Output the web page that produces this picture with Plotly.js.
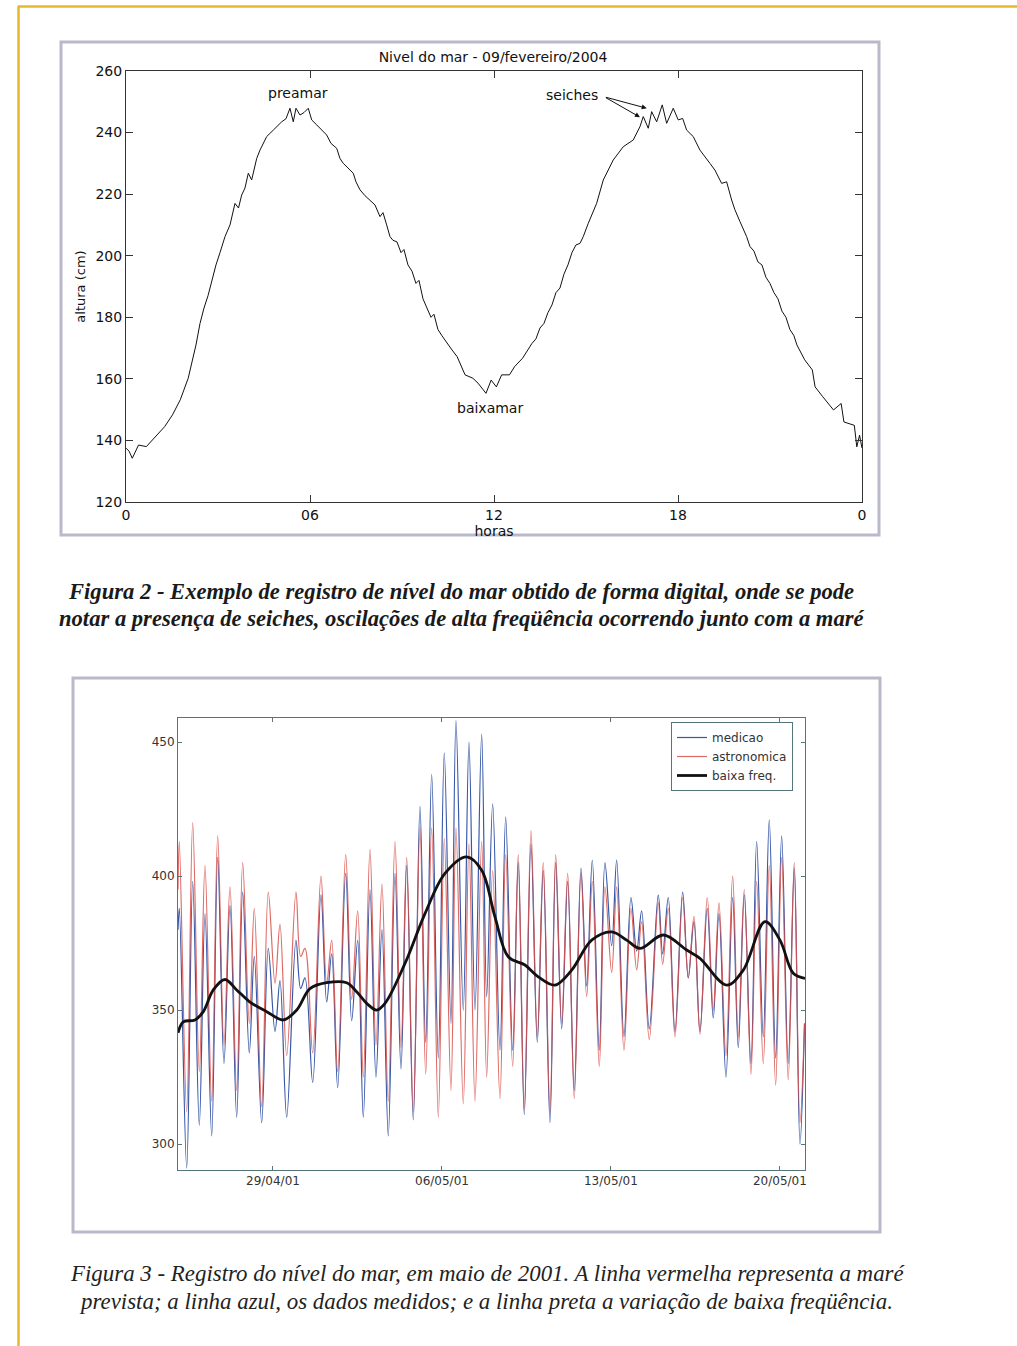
<!DOCTYPE html>
<html>
<head>
<meta charset="utf-8">
<script src="https://cdn.plot.ly/plotly-3.0.1.min.js"></script>
<style>html,body{margin:0;padding:0;background:#fff;}#chart{width:1017px;height:1346px;}</style>
</head>
<body>
<div id="chart"></div>
<script>
// ---------- Figura 2: nível do mar 09/02/2004 (horas, cm) ----------
const hoursFig2 = [0.000,0.100,0.205,0.408,0.665,1.004,1.262,1.516,1.770,2.028,2.152,2.282,2.413,2.543,2.674,2.804,2.934,3.065,3.228,3.391,3.554,3.668,3.772,3.880,3.988,4.098,4.262,4.369,4.588,4.803,4.923,5.077,5.217,5.347,5.455,5.543,5.673,5.804,5.944,6.055,6.218,6.358,6.544,6.684,6.870,6.977,7.085,7.238,7.411,7.499,7.630,7.793,7.956,8.119,8.282,8.380,8.500,8.608,8.706,8.836,8.967,9.064,9.195,9.325,9.455,9.553,9.684,9.814,9.945,10.042,10.173,10.303,10.433,10.629,10.799,11.056,11.311,11.480,11.738,11.907,12.077,12.250,12.504,12.674,12.931,13.101,13.237,13.368,13.498,13.629,13.759,13.890,14.020,14.151,14.281,14.411,14.542,14.672,14.803,14.910,15.073,15.347,15.563,15.889,16.215,16.541,16.759,16.867,17.030,17.141,17.304,17.486,17.630,17.845,18.008,18.151,18.282,18.497,18.716,19.042,19.205,19.423,19.586,19.749,19.857,20.020,20.238,20.346,20.476,20.606,20.737,20.867,20.998,21.128,21.259,21.389,21.520,21.650,21.781,21.878,21.960,22.130,22.380,22.470,22.720,23.070,23.320,23.410,23.750,23.830,23.920,24.000];
const alturaFig2 = [137.5,136.5,134.2,138.5,138.0,141.8,144.5,148.3,153.2,160.2,165.0,171.0,178.0,183.0,187.0,192.0,197.0,201.0,206.2,210.0,217.0,215.5,219.7,222.0,226.8,224.6,231.6,234.3,238.7,240.8,242.0,243.5,244.5,247.9,243.5,247.9,245.7,246.5,247.9,244.1,242.5,241.0,239.2,236.5,234.9,231.6,230.0,228.5,226.8,224.0,221.4,219.5,218.1,216.5,212.7,214.0,210.0,206.2,205.0,204.5,201.0,202.0,197.0,195.0,191.0,192.0,186.0,183.0,180.0,181.0,176.0,174.0,172.0,169.4,167.2,161.3,160.2,158.6,155.3,159.6,157.4,161.3,161.3,164.0,166.7,169.4,171.5,173.0,176.5,178.0,181.5,184.0,188.0,189.5,194.0,197.0,201.0,203.5,204.0,206.2,210.5,217.0,224.6,231.1,235.4,237.6,241.9,245.2,241.4,246.8,243.5,249.0,243.0,247.9,244.1,244.6,240.8,238.7,234.3,230.0,227.8,223.5,224.0,218.1,214.9,211.1,206.2,203.0,201.5,198.0,197.0,193.0,191.0,188.0,186.0,182.0,180.0,176.0,174.0,171.0,169.4,166.2,162.9,157.4,154.2,149.9,152.0,146.0,144.9,137.9,141.7,137.5];
const ticksHoras = [0, 6, 12, 18, 24];
const ticksHorasText = ['0', '06', '12', '18', '0'];

// ---------- Figura 3: maio de 2001 (dias desde 29/04/2001, cm) ----------
const diasMaree = [-3.935,-3.88,-3.575,-3.326,-3.053,-2.817,-2.539,-2.291,-2.030,-1.781,-1.504,-1.255,-0.982,-0.775,-0.468,-0.195,0.083,0.290,0.568,0.953,1.147,1.326,1.645,1.988,2.224,2.432,2.680,3.012,3.260,3.509,3.741,4.018,4.267,4.515,4.776,5.054,5.302,5.539,5.812,6.089,6.326,6.574,6.848,7.096,7.374,7.581,7.883,8.119,8.368,8.645,8.852,9.101,9.403,9.640,9.930,10.161,10.410,10.688,10.949,11.197,11.475,11.711,11.960,12.208,12.481,12.759,12.995,13.227,13.517,13.753,14.031,14.238,14.540,14.830,15.066,15.273,15.588,15.961,16.143,16.375,16.653,16.972,17.204,17.440,17.688,17.991,18.239,18.476,18.766,19.043,19.275,19.524,19.801,20.037,20.311,20.559,20.824,21.073,21.344,21.595,21.831,22.02];
const medicao = [380,388,291,398,307,386,303,407,330,389,310,394,334,370,308,373,342,361,310,376,358,362,323,393,353,371,321,401,346,376,310,395,325,380,303,401,328,404,309,426,338,438,332,446,345,458,350,450,350,453,355,427,335,422,335,405,311,412,338,402,308,405,343,398,320,403,359,406,335,405,374,406,340,392,372,387,343,393,371,392,342,394,362,383,342,388,347,386,325,392,336,393,330,413,340,421,332,415,330,403,300,345];
const astronomica = [395,413,312,420,327,404,316,415,337,396,320,405,345,388,314,394,360,382,333,394,370,373,334,400,360,376,327,408,354,387,325,410,337,397,316,413,336,407,312,418,326,418,310,414,320,418,315,412,316,413,325,402,317,408,329,408,313,417,340,405,312,408,345,401,317,401,355,398,329,396,364,396,335,388,365,383,339,390,367,388,340,392,362,385,341,392,350,390,333,400,340,395,326,398,330,404,322,407,324,405,308,345];
const diasBaixa = [-3.935,-3.716,-3.231,-2.887,-2.473,-1.988,-1.504,-0.953,-0.261,0.427,0.982,1.533,2.224,3.053,3.467,3.882,4.296,4.640,5.468,6.297,7.125,8.024,8.645,9.196,9.747,10.439,10.990,11.682,12.374,13.202,14.031,14.652,15.203,16.168,17.137,17.688,18.794,19.482,20.381,21.003,21.553,22.038];
const baixaFreq = [341.5,345.6,346.3,349.4,357.5,361.4,357.5,353.0,349.4,346.3,350.0,358.0,360.2,360.2,356.8,352.5,350.0,352.5,367.4,386.0,401.0,407.2,402.2,384.8,369.9,366.8,362.4,359.3,364.9,376.1,379.2,376.1,373.0,378.0,372.4,369.3,359.3,364.9,383.0,376.1,363.7,361.8];
const datasTicks = ['2001-04-29', '2001-05-06', '2001-05-13', '2001-05-20'];

// ---------- helpers ----------
const W = 1017, H = 1346;
const fx = p => p / W;
const fy = p => 1 - p / H;
const base = Date.UTC(2001, 3, 29);
function toDate(d) {
  const t = new Date(base + d * 86400000);
  const z = n => String(n).padStart(2, '0');
  return t.getUTCFullYear() + '-' + z(t.getUTCMonth() + 1) + '-' + z(t.getUTCDate()) + ' ' +
    z(t.getUTCHours()) + ':' + z(t.getUTCMinutes()) + ':' + z(t.getUTCSeconds());
}
const xMaree = diasMaree.map(toDate);
const xBaixa = diasBaixa.map(toDate);

const sans = 'DejaVu Sans, Verdana, sans-serif';
const serif = 'Liberation Serif, Times New Roman, serif';

const traces = [
  {x: hoursFig2, y: alturaFig2, xaxis: 'x', yaxis: 'y', type: 'scatter', mode: 'lines',
   line: {color: '#111', width: 1}, showlegend: false, hoverinfo: 'skip'},
  {x: xMaree, y: medicao, xaxis: 'x2', yaxis: 'y2', type: 'scatter', mode: 'lines', name: 'medicao',
   line: {color: '#3757a8', width: 1.2, shape: 'spline', smoothing: 1}},
  {x: xMaree, y: astronomica, xaxis: 'x2', yaxis: 'y2', type: 'scatter', mode: 'lines', name: 'astronomica',
   line: {color: '#d8504a', width: 1.2, shape: 'spline', smoothing: 1}, opacity: 0.85},
  {x: xBaixa, y: baixaFreq, xaxis: 'x2', yaxis: 'y2', type: 'scatter', mode: 'lines', name: 'baixa freq.',
   line: {color: '#111', width: 2.8, shape: 'spline', smoothing: 1}}
];

const axTop = {showline: true, linecolor: '#333', linewidth: 1, mirror: 'ticks', ticks: 'inside',
  tickcolor: '#333', showgrid: false, zeroline: false, tickfont: {family: sans, size: 14, color: '#111'}};
const axBot = {showline: true, linecolor: '#56747b', linewidth: 1, mirror: 'ticks', ticks: 'inside',
  tickcolor: '#56747b', ticklen: 4, showgrid: false, zeroline: false, tickfont: {family: sans, size: 12, color: '#333'}};

const layout = {
  width: W, height: H, margin: {l: 0, r: 0, t: 0, b: 0},
  paper_bgcolor: '#ffffff', plot_bgcolor: 'rgba(0,0,0,0)',
  font: {family: sans, color: '#111'},
  title: {text: 'Nivel do mar - 09/fevereiro/2004', x: fx(493), y: fy(57), xref: 'paper', yref: 'paper',
    xanchor: 'center', yanchor: 'middle', font: {family: sans, size: 14, color: '#111'}},
  xaxis: Object.assign({}, axTop, {domain: [fx(126), fx(862)], range: [0, 24], anchor: 'y',
    tickvals: ticksHoras, ticktext: ticksHorasText, ticklen: 7,
    title: {text: 'horas', font: {family: sans, size: 14, color: '#111'}, standoff: 0}}),
  yaxis: Object.assign({}, axTop, {domain: [fy(502), fy(71)], range: [120, 260], dtick: 20, anchor: 'x', ticklen: 7,
    title: {text: 'altura (cm)', font: {family: sans, size: 13, color: '#111'}, standoff: 6}}),
  xaxis2: Object.assign({}, axBot, {domain: [fx(178), fx(805)], type: 'date', anchor: 'y2',
    range: [toDate(-3.935), toDate(22.04)], tickvals: datasTicks, tickformat: '%d/%m/%y'}),
  yaxis2: Object.assign({}, axBot, {domain: [fy(1170), fy(718)], range: [290.3, 459], anchor: 'x2',
    tickvals: [300, 350, 400, 450]}),
  showlegend: true,
  legend: {x: fx(671), y: fy(722), xanchor: 'left', yanchor: 'top', bgcolor: '#fff',
    bordercolor: '#56747b', borderwidth: 1, font: {family: sans, size: 12, color: '#333'},
    tracegroupgap: 0, itemwidth: 30},
  shapes: [
    {type: 'line', xref: 'paper', yref: 'paper', x0: fx(18), x1: 1, y0: fy(6.5), y1: fy(6.5), line: {color: '#e6b82a', width: 2.5}},
    {type: 'line', xref: 'paper', yref: 'paper', x0: fx(18.5), x1: fx(18.5), y0: fy(6), y1: 0, line: {color: '#e6b82a', width: 2.5}},
    {type: 'rect', xref: 'paper', yref: 'paper', x0: fx(61), x1: fx(879), y0: fy(42), y1: fy(535), line: {color: '#b9b9c9', width: 3}},
    {type: 'rect', xref: 'paper', yref: 'paper', x0: fx(73), x1: fx(880), y0: fy(678), y1: fy(1232), line: {color: '#b9b9c9', width: 3}}
  ],
  annotations: [
    {xref: 'x', yref: 'y', x: 5.61, y: 252.9, text: 'preamar', showarrow: false, font: {family: sans, size: 14, color: '#111'}},
    {xref: 'x', yref: 'y', x: 11.87, y: 150.5, text: 'baixamar', showarrow: false, font: {family: sans, size: 14, color: '#111'}},
    {xref: 'x', yref: 'y', x: 14.54, y: 252.2, text: 'seiches', showarrow: false, font: {family: sans, size: 14, color: '#111'}},
    {xref: 'x', yref: 'y', x: 16.98, y: 247.9, axref: 'x', ayref: 'y', ax: 15.6, ay: 251.6, text: '', showarrow: true,
      arrowhead: 2, arrowsize: 1, arrowwidth: 1, arrowcolor: '#111'},
    {xref: 'x', yref: 'y', x: 16.76, y: 245.0, axref: 'x', ayref: 'y', ax: 15.6, ay: 251.6, text: '', showarrow: true,
      arrowhead: 2, arrowsize: 1, arrowwidth: 1, arrowcolor: '#111'},
    {xref: 'paper', yref: 'paper', x: fx(461), y: fy(591), xanchor: 'center', yanchor: 'middle', showarrow: false,
      text: '<b><i>Figura 2 - Exemplo de registro de nível do mar obtido de forma digital, onde se pode</i></b>',
      font: {family: serif, size: 22.6, color: '#1a1a1a'}},
    {xref: 'paper', yref: 'paper', x: fx(461), y: fy(619), xanchor: 'center', yanchor: 'middle', showarrow: false,
      text: '<b><i>notar a presença de seiches, oscilações de alta freqüência ocorrendo junto com a maré</i></b>',
      font: {family: serif, size: 22.6, color: '#1a1a1a'}},
    {xref: 'paper', yref: 'paper', x: fx(487), y: fy(1273), xanchor: 'center', yanchor: 'middle', showarrow: false,
      text: '<i>Figura 3 - Registro do nível do mar, em maio de 2001. A linha vermelha representa a maré</i>',
      font: {family: serif, size: 22.9, color: '#222'}},
    {xref: 'paper', yref: 'paper', x: fx(486), y: fy(1301), xanchor: 'center', yanchor: 'middle', showarrow: false,
      text: '<i>prevista; a linha azul, os dados medidos; e a linha preta a variação de baixa freqüência.</i>',
      font: {family: serif, size: 22.9, color: '#222'}}
  ]
};

Plotly.newPlot('chart', traces, layout, {displayModeBar: false, staticPlot: true});
</script>
</body>
</html>
